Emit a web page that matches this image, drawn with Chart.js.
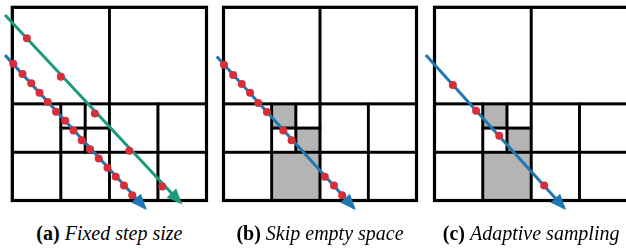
<!DOCTYPE html>
<html>
<head>
<meta charset="utf-8">
<script src="https://cdn.jsdelivr.net/npm/chart.js@4.4.1/dist/chart.umd.min.js"></script>
<style>
  html, body { margin: 0; padding: 0; background: #fff; overflow: hidden; }
  #stage { position: relative; width: 626px; height: 249px; overflow: hidden; background: #fff; }
  #stage canvas { position: absolute; top: 0; }
  .caption {
    position: absolute; top: 221px; width: 211px; text-align: center;
    font-family: "Times New Roman", Times, "Liberation Serif", "DejaVu Serif", "Noto Serif", serif;
    font-size: 20px; line-height: 24px; color: #000; white-space: nowrap;
  }
  .caption b { font-weight: bold; }
  .caption i { font-style: italic; }
</style>
</head>
<body>
<div id="stage"></div>
<script>
// Quadtree cells in grid units (x0, y0, x1, y1), y grows downwards
const gridCells = [
  [0, 0, 2, 2], [2, 0, 4, 2],
  [0, 2, 1, 3], [1, 2, 1.5, 2.5], [1.5, 2, 2, 2.5], [1, 2.5, 1.5, 3], [1.5, 2.5, 2, 3],
  [2, 2, 3, 3], [3, 2, 4, 3],
  [0, 3, 1, 4], [1, 3, 2, 4], [2, 3, 3, 4], [3, 3, 4, 4],
];
const emptyCells = [[1, 2, 1.5, 2.5], [1.5, 2.5, 2, 3], [1, 3, 2, 4]];

// (a) fixed step size: two rays
const fixedGreenRay = [[-0.15, 0.16], [3.46, 4.04]];
const fixedGreenSamples = [[0.30, 0.64], [1.00, 1.44], [1.70, 2.20], [2.41, 2.97], [3.09, 3.71]];
const fixedBlueRay = [[-0.15, 0.99], [2.73, 4.15]];
const fixedBlueSamples = [
  [0.02, 1.17], [0.21, 1.38], [0.39, 1.57], [0.56, 1.77], [0.73, 1.96],
  [0.90, 2.16], [1.09, 2.35], [1.26, 2.55], [1.43, 2.75], [1.60, 2.94],
  [1.78, 3.13], [1.96, 3.32], [2.13, 3.51], [2.30, 3.69], [2.47, 3.89],
];

// (b) skip empty space
const skipRay = [[-0.14, 1.02], [2.70, 4.15]];
const skipSamples = [
  [0.01, 1.19], [0.20, 1.40], [0.38, 1.59], [0.55, 1.77], [0.72, 1.98],
  [0.90, 2.17], [1.24, 2.55], [1.41, 2.75], [2.10, 3.51], [2.29, 3.69], [2.46, 3.89],
];

// (c) adaptive sampling
const adaptiveRay = [[-0.18, 0.99], [2.68, 4.15]];
const adaptiveSamples = [[0.38, 1.61], [0.86, 2.14], [1.34, 2.66], [2.27, 3.69]];

const captionTags = ['(a)', '(b)', '(c)'];
const captionTexts = ['Fixed step size', 'Skip empty space', 'Adaptive sampling'];

const BLUE = '#1f77b4';
const GREEN = '#1b9a7c';
const RED = '#d62f3a';
const GRAY = '#b4b4b4';

const BOX_TOP = 7.3, BOX_H = 193.2;
const CANVAS_W = 215, CANVAS_H = 215;

const toXY = pts => pts.map(p => ({ x: p[0], y: p[1] }));

function quadtreePlugin(empty) {
  return {
    id: 'quadtree',
    beforeDatasetsDraw(chart) {
      const { ctx, scales: { x, y } } = chart;
      const rect = c => {
        const px0 = x.getPixelForValue(c[0]), py0 = y.getPixelForValue(c[1]);
        const px1 = x.getPixelForValue(c[2]), py1 = y.getPixelForValue(c[3]);
        return [px0, py0, px1 - px0, py1 - py0];
      };
      ctx.save();
      ctx.fillStyle = GRAY;
      empty.forEach(c => ctx.fillRect(...rect(c)));
      ctx.strokeStyle = '#000';
      ctx.lineWidth = 2.6;
      gridCells.forEach(c => ctx.strokeRect(...rect(c)));
      ctx.lineWidth = 3.2;
      ctx.strokeRect(...rect([0, 0, 4, 4]));
      ctx.restore();
    },
  };
}

const arrowPlugin = {
  id: 'arrowHeads',
  afterDatasetsDraw(chart) {
    const ctx = chart.ctx;
    chart.data.datasets.forEach((ds, i) => {
      if (!ds.arrow) return;
      const pts = chart.getDatasetMeta(i).data;
      const a = pts[pts.length - 2], b = pts[pts.length - 1];
      const ang = Math.atan2(b.y - a.y, b.x - a.x);
      const len = 16, half = 6.5, ext = 3;
      const tx = b.x + ext * Math.cos(ang), ty = b.y + ext * Math.sin(ang);
      const bx = tx - len * Math.cos(ang), by = ty - len * Math.sin(ang);
      ctx.save();
      ctx.fillStyle = ds.borderColor;
      ctx.beginPath();
      ctx.moveTo(tx, ty);
      ctx.lineTo(bx + half * Math.sin(ang), by - half * Math.cos(ang));
      ctx.lineTo(bx - half * Math.sin(ang), by + half * Math.cos(ang));
      ctx.closePath();
      ctx.fill();
      ctx.restore();
    });
  },
};

function rayDataset(ray, color) {
  return {
    data: toXY(ray),
    showLine: true,
    borderColor: color,
    backgroundColor: color,
    borderWidth: 3,
    borderCapStyle: 'butt',
    pointRadius: 0,
    clip: false,
    arrow: true,
    order: 2,
  };
}

function sampleDataset(samples) {
  return {
    data: toXY(samples),
    showLine: false,
    pointRadius: 4,
    pointBackgroundColor: RED,
    pointBorderWidth: 0,
    clip: false,
    order: 1,
  };
}

const panels = [
  { left: 12.3, width: 194.2, empty: [],
    datasets: [
      sampleDataset(fixedGreenSamples), sampleDataset(fixedBlueSamples),
      rayDataset(fixedGreenRay, GREEN), rayDataset(fixedBlueRay, BLUE),
    ] },
  { left: 223.5, width: 193.0, empty: emptyCells,
    datasets: [sampleDataset(skipSamples), rayDataset(skipRay, BLUE)] },
  { left: 434.5, width: 193.3, empty: emptyCells,
    datasets: [sampleDataset(adaptiveSamples), rayDataset(adaptiveRay, BLUE)] },
];

const stage = document.getElementById('stage');

panels.forEach((p, i) => {
  const canvas = document.createElement('canvas');
  canvas.width = CANVAS_W;
  canvas.height = CANVAS_H;
  const offset = Math.round(p.left) - 12;
  canvas.style.left = offset + 'px';
  stage.appendChild(canvas);
  const padLeft = p.left - offset;

  new Chart(canvas.getContext('2d'), {
    type: 'scatter',
    data: { datasets: p.datasets },
    options: {
      responsive: false,
      animation: false,
      devicePixelRatio: 1,
      events: [],
      layout: {
        padding: {
          left: padLeft,
          top: BOX_TOP,
          right: CANVAS_W - padLeft - p.width,
          bottom: CANVAS_H - BOX_TOP - BOX_H,
        },
      },
      plugins: { legend: { display: false }, tooltip: { enabled: false } },
      scales: {
        x: { type: 'linear', min: 0, max: 4, display: false },
        y: { type: 'linear', min: 0, max: 4, reverse: true, display: false },
      },
    },
    plugins: [quadtreePlugin(p.empty), arrowPlugin],
  });

  const cap = document.createElement('div');
  cap.className = 'caption';
  cap.style.left = (p.left + p.width / 2 - 105.5) + 'px';
  cap.innerHTML = '<b>' + captionTags[i] + '</b> <i>' + captionTexts[i] + '</i>';
  stage.appendChild(cap);
});
</script>
</body>
</html>
